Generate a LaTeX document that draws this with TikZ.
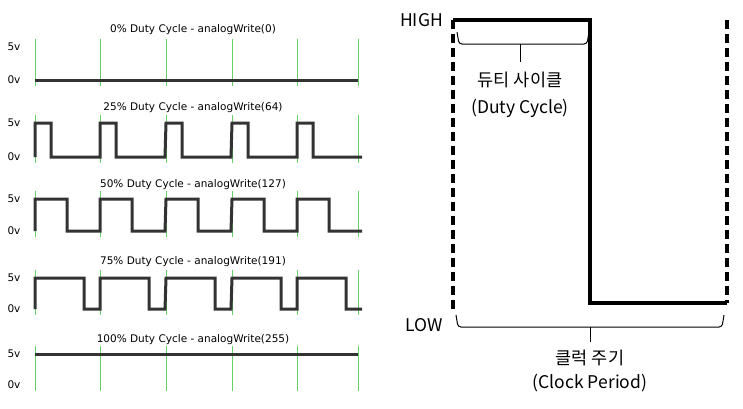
\documentclass[tikz,border=0pt]{standalone}
\usepackage{fontspec}
\setmainfont{Noto Sans CJK KR}
\newfontfamily\smallsans{DejaVu Sans}
\begin{document}
\begin{tikzpicture}[x=1pt,y=-1pt,
  grn/.style={green!70!black!60, line width=1pt},
  wave/.style={black!80, line width=3pt},
  lbl/.style={font=\fontsize{10.5}{12}\selectfont\smallsans, inner sep=0},
  big/.style={font=\fontsize{17.5}{20}\selectfont, inner sep=0},
  thick3/.style={line width=3.5pt},
  dsh/.style={line width=3.5pt, dash pattern=on 9pt off 5pt}]
\useasboundingbox (0,0) rectangle (743,408);
% left panel
\foreach \t/\ty/\hy/\ly [count=\i] in {0\% Duty Cycle - analogWrite(0)/30/47/80,25\% Duty Cycle - analogWrite(64)/108/123/157,50\% Duty Cycle - analogWrite(127)/185/199/231,75\% Duty Cycle - analogWrite(191)/262/278/309,100\% Duty Cycle - analogWrite(255)/340/354/385}{
  \node[lbl] (t\i) at (193,\ty) {\t};
  \node[lbl] (h\i) at (14,\hy) {5v};
  \node[lbl] (l\i) at (14,\ly) {0v};
  \foreach \x in {35,100,166,232,297,358}{\draw[grn] (\x,\hy-8) -- (\x,\ly+6);}
}
\draw[wave] (35,80) -- (358,80);
\draw[wave] (35,354) -- (358,354);
% 25%
\draw[wave] (35,157) \foreach \x in {35,100,166,232,297}{ -- (\x,123) -- (\x+16,123) -- (\x+16,157) -- (\x+65,157)} -- (358,157);
% 50%
\draw[wave] (35,231) \foreach \x in {35,100,166,232,297}{ -- (\x,199) -- (\x+32,199) -- (\x+32,231) -- (\x+65,231)} -- (358,231);
% 75%
\draw[wave] (35,309) \foreach \x in {35,100,166,232,297}{ -- (\x,278) -- (\x+49,278) -- (\x+49,309) -- (\x+65,309)} -- (358,309);
% right panel
\node[big, anchor=east] (hi) at (443,20) {HIGH};
\node[big, anchor=east] (lo) at (443,325) {LOW};
\draw[dsh] (453,20) -- (453,310);
\draw[dsh] (727,20) -- (727,303);
\draw[thick3] (453,20) -- (590,20) -- (590,303) -- (727,303);
\draw[line width=1pt, rounded corners=3pt] (457,32) -- (459,44) -- (520,44) -- (522,44) -- (587,44) -- (589,32);
\draw[line width=1pt] (520,44) -- (520,62);
\node[big] (dk) at (520,80) {듀티 사이클};
\node[big] (de) at (520,108) {(Duty Cycle)};
\draw[line width=1pt, rounded corners=3pt] (456,315) -- (458,327) -- (722,327) -- (724,315);
\draw[line width=1pt] (590,327) -- (590,342);
\node[big] (ck) at (590,358) {클럭 주기};
\node[big] (ce) at (590,383) {(Clock Period)};
\end{tikzpicture}
\end{document}
